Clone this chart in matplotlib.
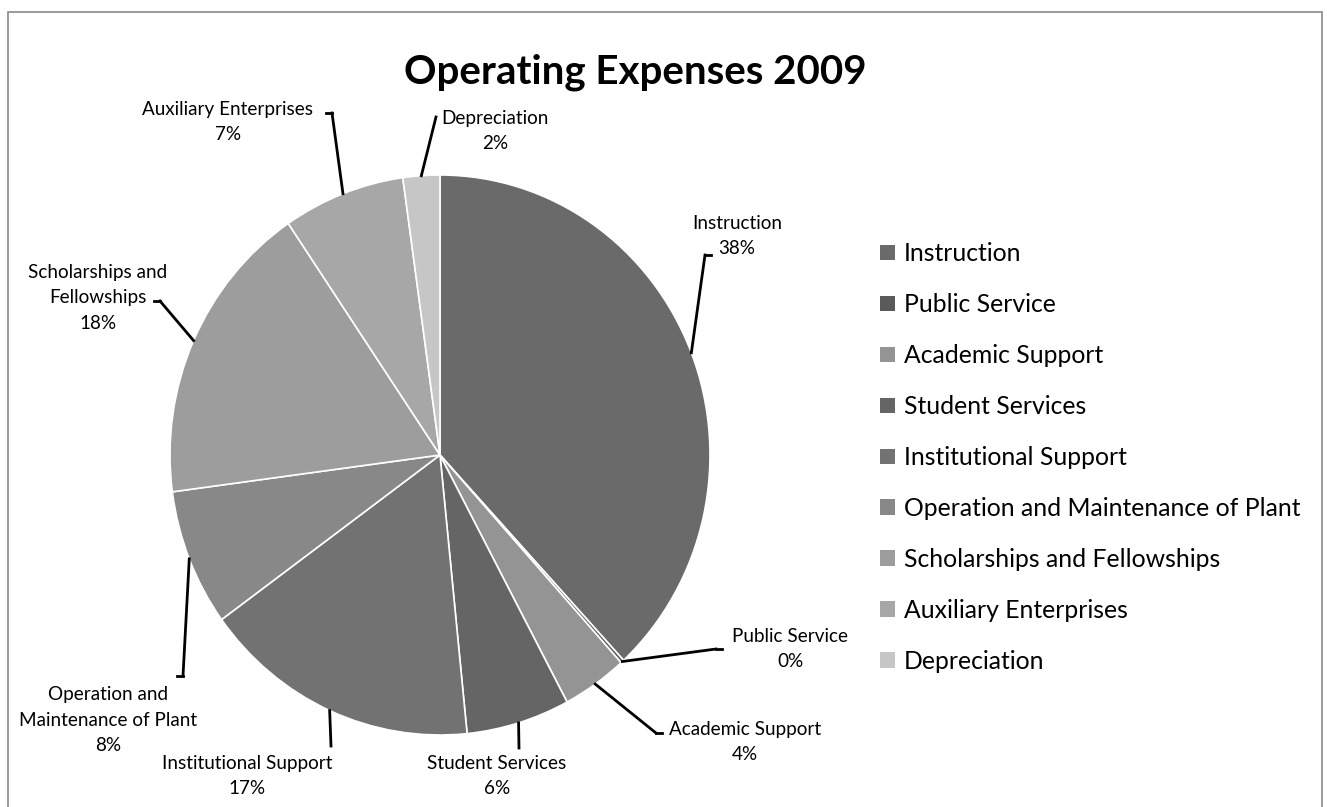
import numpy as np
import matplotlib.pyplot as plt
from matplotlib.patches import Rectangle

categories = ["Instruction", "Public Service", "Academic Support", "Student Services",
              "Institutional Support", "Operation and Maintenance of Plant",
              "Scholarships and Fellowships", "Auxiliary Enterprises", "Depreciation"]
shares = [38.1, 0.2, 3.9, 6.2, 16.6, 7.9, 17.6, 7.3, 2.2]
pie_labels = ["Instruction", "Public Service", "Academic Support", "Student Services",
              "Institutional Support", "Operation and\nMaintenance of Plant",
              "Scholarships and\nFellowships", "Auxiliary Enterprises", "Depreciation"]
colors = ["#6a6a6a", "#5a5a5a", "#949494", "#656565", "#727272",
          "#888888", "#9d9d9d", "#a7a7a7", "#c6c6c6"]

# label placement in figure pixels (x, y from top) and leader elbow points
label_pos = [(737, 236), (790, 649), (745, 742), (497, 776), (247, 776),
             (108, 720), (98, 298), (228, 122), (495, 131)]
elbows = [(705, 255), (716, 649), (656, 733), (519, 748), (331, 746),
          (183, 676), (160, 301), (332, 113), (436, 117)]
W, H = 1327, 807

plt.rcParams['font.family'] = ['Lato', 'DejaVu Sans']
fig = plt.figure(figsize=(W / 100, H / 100), dpi=100)

cx, cy, rx, ry = 440, 455, 270, 280
ax = fig.add_axes([(cx - rx) / W, 1 - (cy + ry) / H, 2 * rx / W, 2 * ry / H])
wedges, _ = ax.pie(shares, colors=colors, startangle=90, counterclock=False,
                   wedgeprops=dict(edgecolor="white", linewidth=1.2))
ax.set_aspect("auto")
ax.set_xlim(-1, 1)
ax.set_ylim(-1, 1)

def fig_px(x, y):
    return (x / W, 1 - y / H)

# leader lines and labels
total = sum(shares)
cum = np.cumsum([0] + shares)
for i, lab in enumerate(pie_labels):
    mid = 90 - 360 * (cum[i] + cum[i + 1]) / 2 / total
    px = cx + rx * np.cos(np.radians(mid))
    py = cy - ry * np.sin(np.radians(mid))
    ex, ey = elbows[i]
    tx, ty = label_pos[i]
    pct = int(round(shares[i]))
    fig.text(*fig_px(tx, ty), f"{lab}\n{pct}%", ha="center", va="center",
             fontsize=13.6, linespacing=1.62, color="black")
    fig.add_artist(plt.Line2D([px / W, ex / W], [1 - py / H, 1 - ey / H],
                              color="black", lw=2))
    # short horizontal tick toward the text
    if i in (0, 1, 2, 5, 6, 7):
        hx = ex + (6 if tx > ex else -6)
        fig.add_artist(plt.Line2D([ex / W, hx / W], [1 - ey / H, 1 - ey / H],
                                  color="black", lw=2))

fig.text(*fig_px(635, 72), "Operating Expenses 2009", ha="center", va="center",
         fontsize=29, fontweight="bold", color="black")

leg = fig.legend(wedges, categories, loc="upper left",
                 bbox_to_anchor=(868 / W, 1 - 230 / H), frameon=False,
                 fontsize=17.8, handlelength=0.6, handleheight=0.6,
                 handletextpad=0.35, labelspacing=1.13, borderpad=0)
for h in leg.legend_handles:
    h.set_edgecolor("none")

fig.add_artist(Rectangle((8 / W, -0.05), (1322 - 8) / W, 1 - 12 / H + 0.05,
                         transform=fig.transFigure, fill=False,
                         edgecolor="#8a8a8a", lw=1.2))

fig.savefig("out.png", dpi=100, facecolor="white")
